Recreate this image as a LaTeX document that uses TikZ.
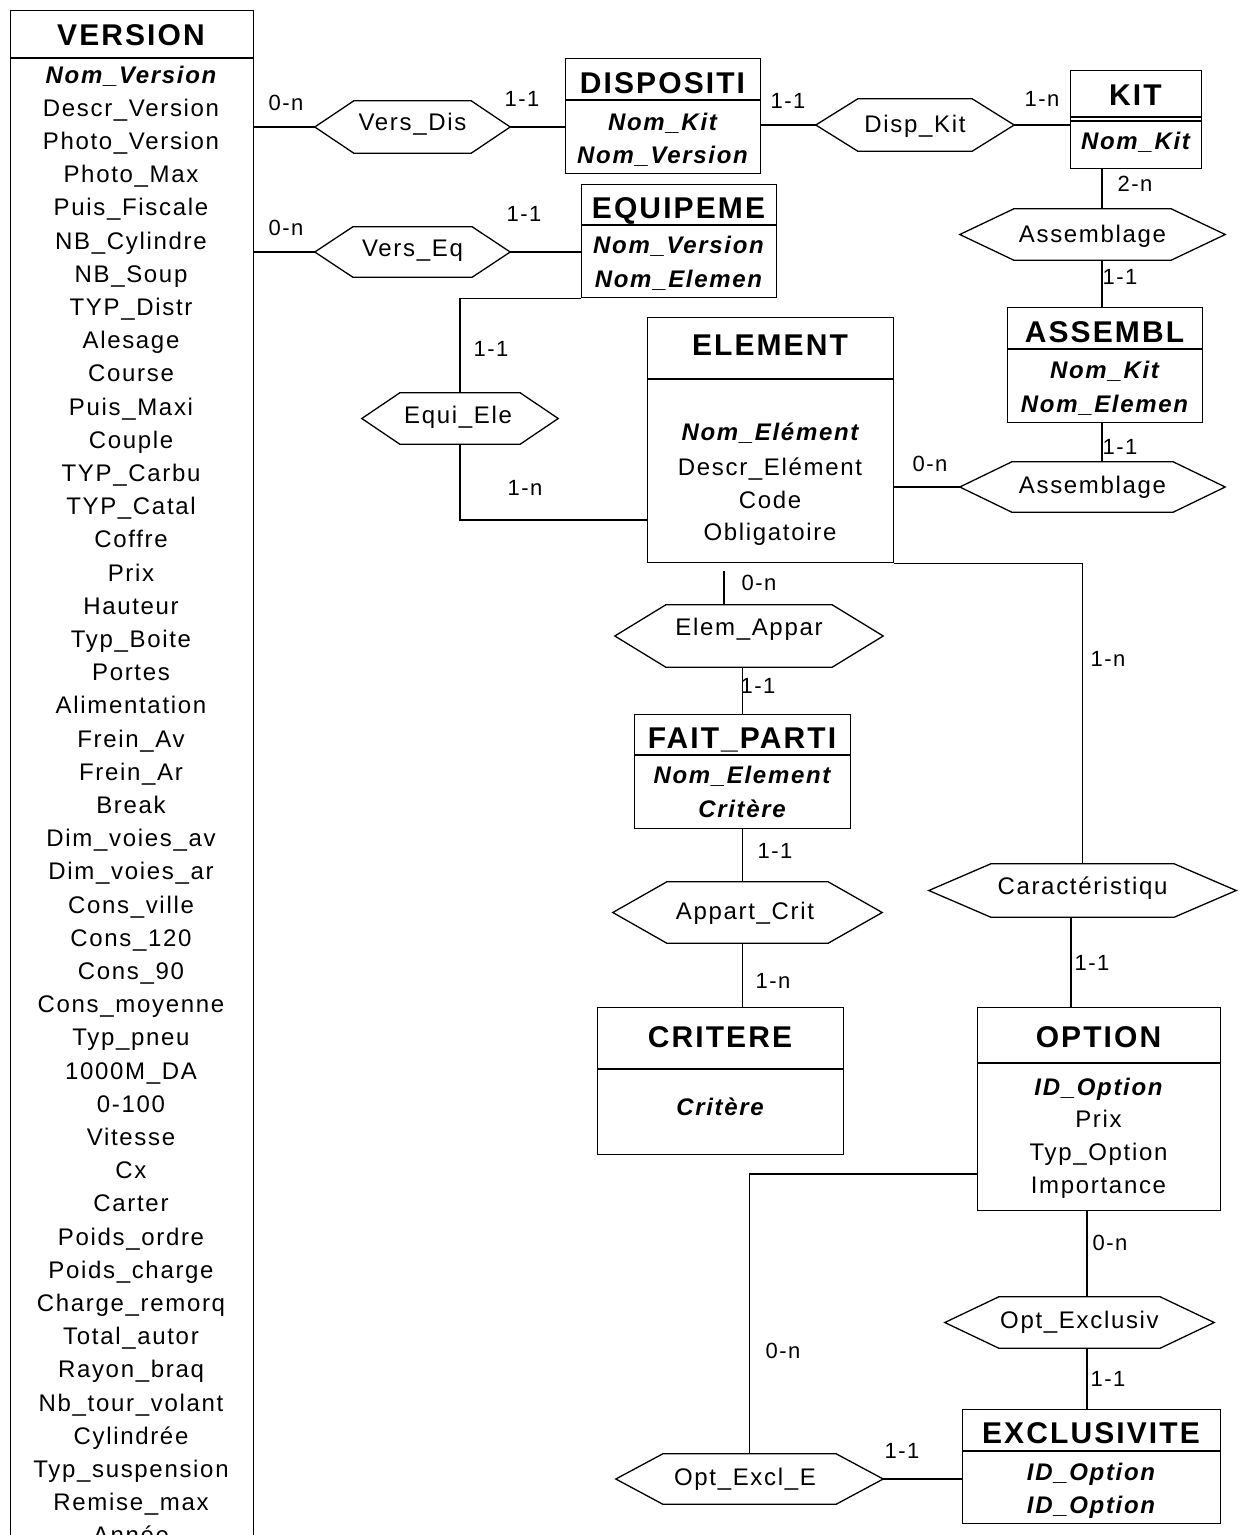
\documentclass[tikz,border=0pt]{standalone}
\usepackage{fontspec}
\setmainfont{Liberation Sans}[LetterSpace=7]

\tikzset{
  entbox/.style={draw, line width=1.3pt, rectangle, inner sep=0pt, anchor=north west},
  assoc/.style={inner sep=0pt},
  hextext/.style={inner sep=0pt, anchor=base, font=\fontsize{24}{28}\selectfont},
  ename/.style={inner sep=0pt, anchor=base, font=\fontsize{30}{34}\selectfont\bfseries},
  attr/.style={inner sep=0pt, anchor=base, font=\fontsize{24}{28}\selectfont},
  keyattr/.style={inner sep=0pt, anchor=base, font=\fontsize{24}{28}\selectfont\bfseries\itshape},
  card/.style={inner sep=0pt, anchor=base, font=\fontsize{22}{26}\selectfont},
  link/.style={line width=1.2pt},
}

\begin{document}
\begin{tikzpicture}[x=1pt,y=1pt,yscale=-1,xscale=1]
\useasboundingbox (0,0) rectangle (1244,1535);

%Shape: Rectangle [VERSION]
\node[entbox, minimum width=243pt, minimum height=1600pt] (version) at (10,10) {};
\draw[line width=1.3pt] (10,58) -- (253,58);
\node[ename] (versiont) at (131,45) {VERSION};
\node[keyattr] (va0) at (131,83) {Nom\_Version};
\foreach \a [count=\i] in {Descr\_Version, Photo\_Version, Photo\_Max, Puis\_Fiscale, NB\_Cylindre, NB\_Soup, TYP\_Distr, Alesage, Course, Puis\_Maxi, Couple, TYP\_Carbu, TYP\_Catal, Coffre, Prix, Hauteur, Typ\_Boite, Portes, Alimentation, Frein\_Av, Frein\_Ar, Break, Dim\_voies\_av, Dim\_voies\_ar, Cons\_ville, Cons\_120, Cons\_90, Cons\_moyenne, Typ\_pneu, 1000M\_DA, 0-100, Vitesse, Cx, Carter, Poids\_ordre, Poids\_charge, Charge\_remorq, Total\_autor, Rayon\_braq, Nb\_tour\_volant, Cylindrée, Typ\_suspension, Remise\_max, Année}
  \node[attr] (va\i) at (131,83+33.2*\i) {\a};

%Shape: Rectangle [DISPOSITI]
\node[entbox, minimum width=195pt, minimum height=115pt] (dispo) at (565,58) {};
\draw[line width=1.3pt] (565,100) -- (760,100);
\node[ename] (dispot) at (662.5,93) {DISPOSITI};
\node[keyattr] (dispoa1) at (662.5,130) {Nom\_Kit};
\node[keyattr] (dispoa2) at (662.5,163) {Nom\_Version};

%Shape: Rectangle [KIT]
\node[entbox, minimum width=131pt, minimum height=98pt] (kit) at (1070,70) {};
\draw[line width=1.3pt] (1070,117) -- (1201,117);
\draw[line width=1.3pt] (1070,121) -- (1201,121);
\node[ename] (kitt) at (1135.5,105) {KIT};
\node[keyattr] (kita1) at (1135.5,149) {Nom\_Kit};

%Shape: Rectangle [EQUIPEME]
\node[entbox, minimum width=195pt, minimum height=113pt] (equip) at (581,184) {};
\draw[line width=1.3pt] (581,225) -- (776,225);
\node[ename] (equipt) at (678.5,218) {EQUIPEME};
\node[keyattr] (equipa1) at (678.5,253) {Nom\_Version};
\node[keyattr] (equipa2) at (678.5,287) {Nom\_Elemen};

%Shape: Rectangle [ELEMENT]
\node[entbox, minimum width=246pt, minimum height=245pt] (element) at (647,317) {};
\draw[line width=1.3pt] (647,379) -- (893,379);
\node[ename] (elementt) at (770,355) {ELEMENT};
\node[keyattr] (elementa1) at (770,440) {Nom\_Elément};
\node[attr] (elementa2) at (770,475) {Descr\_Elément};
\node[attr] (elementa3) at (770,508) {Code};
\node[attr] (elementa4) at (770,540) {Obligatoire};

%Shape: Rectangle [ASSEMBL]
\node[entbox, minimum width=195pt, minimum height=115pt] (assembl) at (1007,307) {};
\draw[line width=1.3pt] (1007,349) -- (1202,349);
\node[ename] (assemblt) at (1104.5,342) {ASSEMBL};
\node[keyattr] (assembla1) at (1104.5,378) {Nom\_Kit};
\node[keyattr] (assembla2) at (1104.5,412) {Nom\_Elemen};

%Shape: Rectangle [FAIT_PARTI]
\node[entbox, minimum width=216pt, minimum height=114pt] (faitparti) at (634,714) {};
\draw[line width=1.3pt] (634,755) -- (850,755);
\node[ename] (faitpartit) at (742,748) {FAIT\_PARTI};
\node[keyattr] (faitpartia1) at (742,783) {Nom\_Element};
\node[keyattr] (faitpartia2) at (742,817) {Critère};

%Shape: Rectangle [CRITERE]
\node[entbox, minimum width=246pt, minimum height=147pt] (critere) at (597,1007) {};
\draw[line width=1.3pt] (597,1069) -- (843,1069);
\node[ename] (criteret) at (720,1047) {CRITERE};
\node[keyattr] (criterea1) at (720,1115) {Critère};

%Shape: Rectangle [OPTION]
\node[entbox, minimum width=243pt, minimum height=203pt] (option) at (977,1007) {};
\draw[line width=1.3pt] (977,1063) -- (1220,1063);
\node[ename] (optiont) at (1098.5,1047) {OPTION};
\node[keyattr] (optiona1) at (1098.5,1095) {ID\_Option};
\node[attr] (optiona2) at (1098.5,1127) {Prix};
\node[attr] (optiona3) at (1098.5,1160) {Typ\_Option};
\node[attr] (optiona4) at (1098.5,1193) {Importance};

%Shape: Rectangle [EXCLUSIVITE]
\node[entbox, minimum width=258pt, minimum height=114pt] (exclu) at (962,1409) {};
\draw[line width=1.3pt] (962,1451) -- (1220,1451);
\node[ename] (exclut) at (1091,1443) {EXCLUSIVITE};
\node[keyattr] (exclua1) at (1091,1480) {ID\_Option};
\node[keyattr] (exclua2) at (1091,1513) {ID\_Option};

% Hexagons
\node[assoc, minimum width=195pt, minimum height=52pt] (versdis) at (412.5,127) {};
\node[assoc, minimum width=195pt, minimum height=50pt] (verseq) at (412.5,252) {};
\node[assoc, minimum width=198pt, minimum height=52pt] (dispkit) at (915,125) {};
\node[assoc, minimum width=265pt, minimum height=51pt] (assemb1) at (1092.5,234.5) {};
\node[assoc, minimum width=265pt, minimum height=50pt] (assemb2) at (1092.5,487) {};
\node[assoc, minimum width=196pt, minimum height=51pt] (equiele) at (460,418.5) {};
\node[assoc, minimum width=268pt, minimum height=62pt] (elemappar) at (749,636) {};
\node[assoc, minimum width=269pt, minimum height=61pt] (appartcrit) at (747.5,912.5) {};
\node[assoc, minimum width=307pt, minimum height=53pt] (caract) at (1082.5,890.5) {};
\node[assoc, minimum width=269pt, minimum height=51pt] (optexcl) at (1079.5,1322.5) {};
\node[assoc, minimum width=267pt, minimum height=50pt] (optexcle) at (749.5,1479) {};
\foreach \n/\d in {versdis/39, verseq/38, dispkit/42, assemb1/54, assemb2/52, equiele/38, elemappar/51, appartcrit/54, caract/62, optexcl/54, optexcle/47}
  \draw[line width=1.3pt] (\n.west) -- ([xshift=\d]\n.north west) -- ([xshift=-\d]\n.north east) -- (\n.east) -- ([xshift=-\d]\n.south east) -- ([xshift=\d]\n.south west) -- cycle;

% Text Node
\node[hextext] (versdisl) at (412.5,130) {Vers\_Dis};
\node[hextext] (verseql) at (412.5,256) {Vers\_Eq};
\node[hextext] (dispkitl) at (915,132) {Disp\_Kit};
\node[hextext] (assemb1l) at (1092.5,242) {Assemblage};
\node[hextext] (assemb2l) at (1092.5,493) {Assemblage};
\node[hextext] (equielel) at (458,423) {Equi\_Ele};
\node[hextext] (elemapparl) at (749,635) {Elem\_Appar};
\node[hextext] (appartcritl) at (745,919) {Appart\_Crit};
\node[hextext] (caractl) at (1082.5,894) {Caractéristiqu};
\node[hextext] (optexcll) at (1079.5,1328) {Opt\_Exclusiv};
\node[hextext] (optexclel) at (745,1485) {Opt\_Excl\_E};

% Coordinates
\coordinate (kitOut) at (1102,168);
\coordinate (eleIn) at (647,520);
\coordinate (eleOut) at (724,571);
\coordinate (optIn) at (1071,1007);
\coordinate (optOut) at (1087,1210);
\coordinate (optSide) at (977,1174);

%Straight Lines
\draw[link] (version.east |- versdis.west) -- (versdis.west);
\draw[link] (versdis.east) -- (dispo.west |- versdis.east);
\draw[link] (dispo.east |- dispkit.west) -- (dispkit.west);
\draw[link] (dispkit.east) -- (kit.west |- dispkit.east);
\draw[link] (version.east |- verseq.west) -- (verseq.west);
\draw[link] (verseq.east) -- (equip.west |- verseq.east);
\draw[link] (kitOut) -- (kitOut |- assemb1.north);
\draw[link] (kitOut |- assemb1.south) -- (kitOut |- assembl.north);
\draw[link] (kitOut |- assembl.south) -- (kitOut |- assemb2.north);
\draw[link] (element.east |- assemb2.west) -- (assemb2.west);
\draw[link] (equip.south west) -| (equiele.north);
\draw[link] (equiele.south) |- (eleIn);
\draw[link] (eleOut) -- (eleOut |- elemappar.north);
\draw[link] (faitparti.north) -- (faitparti.north |- elemappar.south);
\draw[link] (element.south east) -| (caract.north);
\draw[link] (faitparti.south) -- (faitparti.south |- appartcrit.north);
\draw[link] (faitparti.south |- appartcrit.south) -- (faitparti.south |- critere.north);
\draw[link] (optIn |- caract.south) -- (optIn);
\draw[link] (optOut) -- (optOut |- optexcl.north);
\draw[link] (optOut |- optexcl.south) -- (optOut |- exclu.north);
\draw[link] (optSide) -| (optexcle.north);
\draw[link] (optexcle.east) -- (exclu.west |- optexcle.east);

% Text Node
\node[card] (cvd1) at (286,110) {0-n};
\node[card] (cvd2) at (522,106) {1-1};
\node[card] (cdk1) at (788,108) {1-1};
\node[card] (cdk2) at (1042,106) {1-n};
\node[card] (cve1) at (286,235) {0-n};
\node[card] (cve2) at (524,221) {1-1};
\node[card] (cas1) at (1135,191) {2-n};
\node[card] (cas2) at (1120,284) {1-1};
\node[card] (cas3) at (1120,454) {1-1};
\node[card] (cas4) at (930,471) {0-n};
\node[card] (cee1) at (491,356) {1-1};
\node[card] (cee2) at (525,495) {1-n};
\node[card] (cea1) at (759,590) {0-n};
\node[card] (cea2) at (758,693) {1-1};
\node[card] (cca1) at (1108,666) {1-n};
\node[card] (cca2) at (1092,970) {1-1};
\node[card] (cac1) at (775,858) {1-1};
\node[card] (cac2) at (773,988) {1-n};
\node[card] (coe1) at (1110,1250) {0-n};
\node[card] (coe2) at (1108,1386) {1-1};
\node[card] (cox1) at (783,1358) {0-n};
\node[card] (cox2) at (902,1458) {1-1};

\end{tikzpicture}
\end{document}
